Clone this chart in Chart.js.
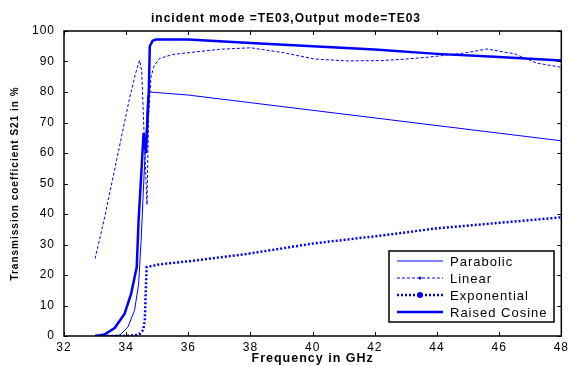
<!DOCTYPE html>
<html lang="en">
<head>
  <meta charset="UTF-8">
  <title>Transmission coefficient TE03</title>
  <script src="https://cdn.jsdelivr.net/npm/chart.js@4.4.0"></script>
  <style>
    body { margin: 0; background: #fff; }
    #wrap { width: 572px; height: 366px; }
  </style>
</head>
<body>
  <div id="wrap"><canvas id="chartS21"></canvas></div>
  <script>
    const xTicks = [32, 34, 36, 38, 40, 42, 44, 46, 48];
    const yTicks = [0, 10, 20, 30, 40, 50, 60, 70, 80, 90, 100];

    const parabolicX = [33, 33.4, 33.8, 34.06, 34.27, 34.4, 34.48, 34.55, 34.62, 34.69, 34.75, 35, 36, 38, 40, 42, 44, 46, 48];
    const parabolicY = [0, 0, 0.3, 3, 8.4, 17, 31, 47, 62, 78.5, 80, 79.8, 79, 76.5, 74, 71.5, 69, 66.5, 64];

    const linearX = [33, 33.31, 33.7, 34.1, 34.3, 34.43, 34.5, 34.58, 34.67, 34.72, 34.8, 34.9, 35.07, 35.5, 36.1, 37, 38, 39, 40.07, 41.1, 42.2, 43, 43.8, 44.9, 45.6, 46.5, 47.2, 48];
    const linearY = [25.4, 39, 58, 77.5, 86, 90.4, 87, 65, 43, 72, 85, 88.5, 91, 92.3, 93, 94, 94.5, 93, 90.8, 90.2, 90.3, 90.8, 91.5, 92.8, 94.1, 92.5, 89.5, 88.1];

    const expX = [33, 33.5, 34, 34.3, 34.45, 34.55, 34.6, 34.63, 34.66, 35.07, 36, 37, 37.94, 40, 42, 44, 46, 48];
    const expY = [0, 0, 0, 0.3, 0.8, 2, 5, 15, 22.6, 23.5, 24.5, 25.8, 27, 30.3, 32.7, 35.3, 37.1, 38.9];

    const cosineX = [33, 33.3, 33.63, 33.95, 34.16, 34.34, 34.4, 34.48, 34.56, 34.64, 34.73, 34.76, 34.85, 34.96, 36, 38, 40, 42, 44, 46, 48];
    const cosineY = [0, 0.5, 2.6, 7.3, 13.9, 22.6, 38, 52, 66.5, 60, 80.7, 95, 96.8, 97.2, 97.2, 96.1, 95, 93.9, 92.5, 91.5, 90.3];

    const toPoints = (xs, ys) => xs.map((x, i) => ({ x: x, y: ys[i] }));
    const blue = '#0000ff';
    const fam = '"Liberation Sans", Arial, sans-serif';

    // matlab style: wide text, frame, inward ticks, title and legend
    const matlabFrame = {
      id: 'matlabFrame',
      beforeDraw(chart) {
        chart.ctx.letterSpacing = '1px';
      },
      afterDraw(chart) {
        const ctx = chart.ctx;
        const a = chart.chartArea;
        const xs = chart.scales.x, ys = chart.scales.y;
        ctx.save();
        ctx.strokeStyle = '#000';
        ctx.lineWidth = 1;
        ctx.beginPath();
        xTicks.forEach(v => {
          const px = Math.round(xs.getPixelForValue(v)) + 0.5;
          ctx.moveTo(px, a.bottom); ctx.lineTo(px, a.bottom - 4);
          ctx.moveTo(px, a.top); ctx.lineTo(px, a.top + 4);
        });
        yTicks.forEach(v => {
          const py = Math.round(ys.getPixelForValue(v)) + 0.5;
          ctx.moveTo(a.left, py); ctx.lineTo(a.left + 4, py);
          ctx.moveTo(a.right, py); ctx.lineTo(a.right - 4, py);
        });
        ctx.stroke();
        ctx.lineWidth = 1.5;
        ctx.strokeRect(a.left, a.top, a.right - a.left, a.bottom - a.top);

        // title
        ctx.letterSpacing = '1px';
        ctx.fillStyle = '#000';
        ctx.font = 'bold 12px ' + fam;
        ctx.textAlign = 'center';
        ctx.textBaseline = 'middle';
        ctx.fillText('incident mode =TE03,Output mode=TE03', chart.width / 2, 18.5);

        // legend
        const lx = 389, ly = 251, lw = 165, lh = 71;
        ctx.fillStyle = '#fff';
        ctx.fillRect(lx, ly, lw, lh);
        ctx.lineWidth = 1.5;
        ctx.strokeStyle = '#000';
        ctx.strokeRect(lx, ly, lw, lh);
        ctx.font = '13px ' + fam;
        ctx.textAlign = 'left';
        chart.data.datasets.forEach((ds, i) => {
          const y = ly + 10 + i * 17;
          ctx.strokeStyle = ds.borderColor;
          ctx.lineWidth = ds.borderWidth;
          ctx.setLineDash(ds.borderDash || []);
          ctx.beginPath();
          ctx.moveTo(lx + 8, y); ctx.lineTo(lx + 54, y);
          ctx.stroke();
          ctx.setLineDash([]);
          if (ds.legendDot) {
            ctx.fillStyle = ds.borderColor;
            ctx.beginPath();
            ctx.arc(lx + 31, y, ds.legendDot, 0, Math.PI * 2);
            ctx.fill();
          }
          ctx.fillStyle = '#000';
          ctx.fillText(ds.label, lx + 61, y + 1);
        });
        ctx.restore();
      }
    };

    new Chart(document.getElementById('chartS21'), {
      type: 'line',
      data: {
        datasets: [
          {
            label: 'Parabolic',
            data: toPoints(parabolicX, parabolicY),
            borderColor: blue,
            borderWidth: 1
          },
          {
            label: 'Linear',
            data: toPoints(linearX, linearY),
            borderColor: blue,
            borderWidth: 1,
            borderDash: [3, 2],
            legendDot: 1.5
          },
          {
            label: 'Exponential',
            data: toPoints(expX, expY),
            borderColor: blue,
            borderWidth: 2.5,
            borderDash: [2, 2],
            legendDot: 3
          },
          {
            label: 'Raised Cosine',
            data: toPoints(cosineX, cosineY),
            borderColor: blue,
            borderWidth: 2.5
          }
        ]
      },
      options: {
        responsive: true,
        maintainAspectRatio: false,
        animation: false,
        elements: { point: { radius: 0 }, line: { tension: 0 } },
        layout: { padding: { top: 31, right: 7, left: 0, bottom: 0 } },
        plugins: {
          legend: { display: false },
          tooltip: { enabled: false }
        },
        scales: {
          x: {
            type: 'linear',
            min: 32,
            max: 48,
            afterFit: s => { s.height = 30; },
            afterBuildTicks: s => { s.ticks = xTicks.map(v => ({ value: v })); },
            grid: { display: false, drawTicks: false },
            border: { display: false },
            ticks: { color: '#000', padding: 4, maxRotation: 0, font: { size: 12, family: fam } },
            title: {
              display: true,
              text: 'Frequency in GHz',
              color: '#000',
              padding: { top: 0, bottom: 0 },
              font: { size: 12.5, weight: 'bold', family: fam }
            }
          },
          y: {
            min: 0,
            max: 100,
            afterFit: s => { s.width = 64; },
            afterBuildTicks: s => { s.ticks = yTicks.map(v => ({ value: v })); },
            grid: { display: false, drawTicks: false },
            border: { display: false },
            ticks: { color: '#000', padding: 9, font: { size: 12, family: fam } },
            title: {
              display: true,
              text: 'Transmission coefficient S21 in %',
              color: '#000',
              padding: { top: 9, bottom: 0 },
              font: { size: 10, weight: 'bold', family: fam }
            }
          }
        }
      },
      plugins: [matlabFrame]
    });
  </script>
</body>
</html>
